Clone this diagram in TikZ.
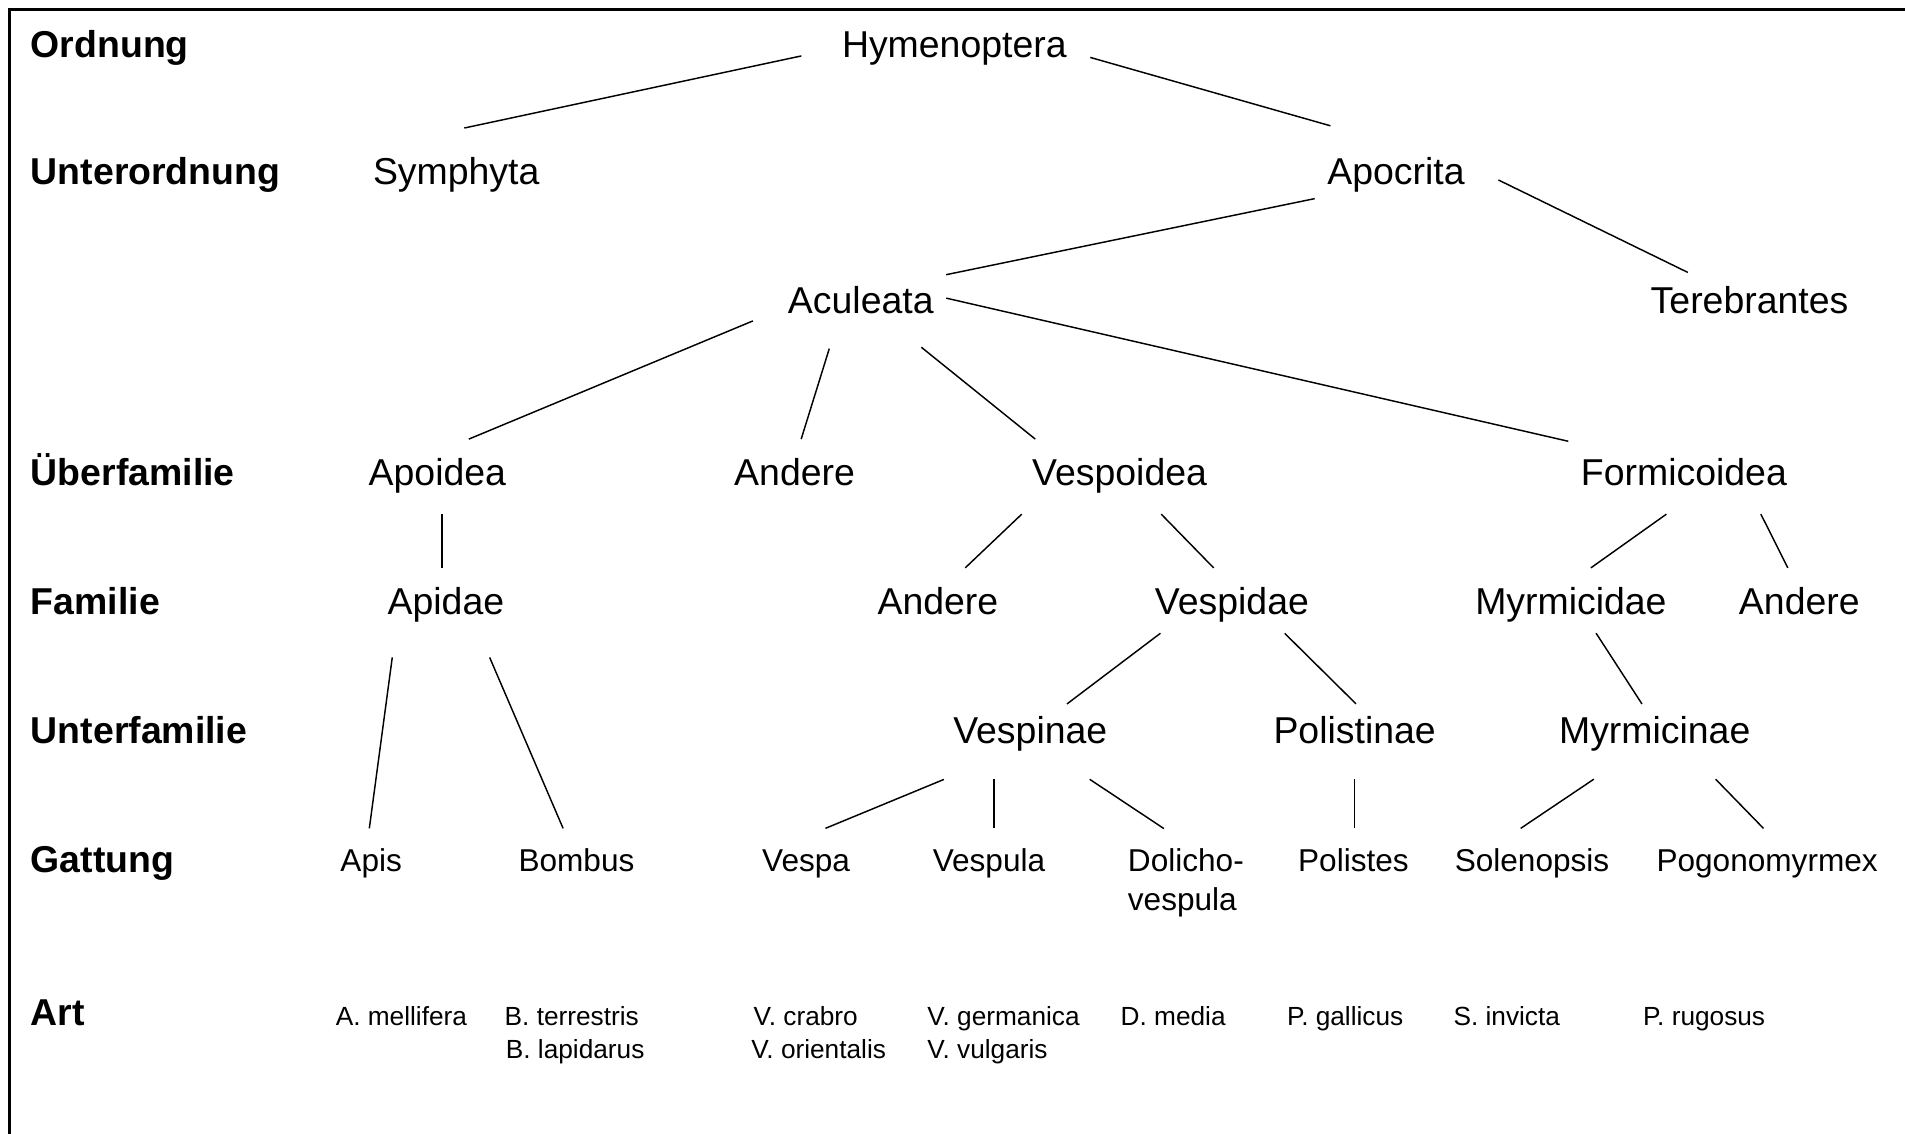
\documentclass[tikz,border=0pt]{standalone}
\usepackage{fontspec}
\setmainfont{Liberation Sans}
\usetikzlibrary{positioning}

\begin{document}
\begin{tikzpicture}[
  x=0.5pt, y=-0.5pt,
  taxon/.style={font=\fontsize{15.4pt}{18pt}\selectfont,anchor=base,
    inner xsep=5pt,inner ysep=8pt,text height=11.1pt,text depth=3.4pt},
  genus/.style={taxon,font=\fontsize{13pt}{16pt}\selectfont,text height=9.4pt,text depth=2.9pt},
  species/.style={font=\fontsize{10.8pt}{13.5pt}\selectfont,anchor=base west,inner sep=0pt},
  rank/.style={font=\fontsize{15.4pt}{18pt}\selectfont\bfseries,anchor=base west,inner sep=0pt},
  link/.style={line width=0.6pt}
]
\useasboundingbox (0,0) rectangle (1568,933);
\draw[line width=1.2pt] (8,933) -- (8,8) -- (1568,8);

% ---------- ranks ----------
\node[rank] (rOrd)  at (25,47)  {Ordnung};
\node[rank] (rUord) at (25,152) {Unterordnung};
\node[rank] (rUfam) at (25,400) {Überfamilie};
\node[rank] (rFam)  at (25,506) {Familie};
\node[rank] (rUfa)  at (25,612) {Unterfamilie};
\node[rank] (rGat)  at (25,718) {Gattung};
\node[rank] (rArt)  at (25,844) {Art};

% ---------- tree ----------
\node[taxon] (hym)  at (785.5,47) {Hymenoptera};
\node[taxon] (sym)  at (375.5,152) {Symphyta};
\node[taxon] (apo)  at (1149,152) {Apocrita};
\node[taxon] (acu)  at (708.5,258) {Aculeata};
\node[taxon] (tere) at (1440,258) {Terebrantes};

\node[taxon] (apoi)   at (360,400) {Apoidea};
\node[taxon] (andA)   at (654,400) {Andere};
\node[taxon] (vespoi) at (921.5,400) {Vespoidea};
\node[taxon] (formi)  at (1386,400) {Formicoidea};

\node[taxon] (apid)   at (367,506) {Apidae};
\node[taxon] (andB)   at (772,506) {Andere};
\node[taxon] (vespid) at (1014,506) {Vespidae};
\node[taxon] (myrmid) at (1293,506) {Myrmicidae};
\node[taxon] (andC)   at (1481,506) {Andere};

\node[taxon] (vespin) at (848,612) {Vespinae};
\node[taxon] (polin)  at (1115,612) {Polistinae};
\node[taxon] (myrmin) at (1362,612) {Myrmicinae};

\node[genus] (apis)  at (305.5,717) {Apis};
\node[genus] (bomb)  at (474.5,717) {Bombus};
\node[genus] (vespa) at (663.5,717) {Vespa};
\node[genus] (vesp)  at (814,717) {Vespula};
\node[genus,align=left,text height={},text depth={},anchor=north west] (doli) at (918,682) {Dolicho-\\vespula};
\node[genus] (polis) at (1114,717) {Polistes};
\node[genus] (solen) at (1261,717) {Solenopsis};
\node[genus] (pogo)  at (1454.5,717) {Pogonomyrmex};

% ---------- species ----------
\node[species] (amel) at (276,844) {A. mellifera};
\node[species] (bter) at (415,844) {B. terrestris};
\node[species] (blap) at (416,871) {B. lapidarus};
\node[species] (vcra) at (620,844) {V. crabro};
\node[species] (vori) at (618,871) {V. orientalis};
\node[species] (vger) at (763,844) {V. germanica};
\node[species] (vvul) at (763,871) {V. vulgaris};
\node[species] (dmed) at (922,844) {D. media};
\node[species] (pgal) at (1059,844) {P. gallicus};
\node[species] (sinv) at (1196,844) {S. invicta};
\node[species] (prug) at (1352,844) {P. rugosus};

% ---------- links ----------
\draw[link,shorten <=11.8pt,shorten >=19.2pt] (hym.181.5) -- (sym.135);
\draw[link,shorten <=4.7pt,shorten >=18pt] (hym.357.2) -- (apo.122);
\draw[link] (apo.196) -- (acu.19);
\draw[link,shorten <=9.7pt,shorten >=-5.5pt] (apo.4) -- (tere.153);
\draw[link,shorten <=10pt] (acu.185.5) -- (apoi.50);
\draw[link,shorten <=3pt] (acu.232) -- (andA.80);
\draw[link,shorten <=3.7pt] (acu.325) -- (vespoi.156);
\draw[link] (acu.4) -- (formi.163);
\draw[link] (apoi.277) -- (apoi.277 |- apid.north);
\draw[link] (vespoi.201) -- (andB.54);
\draw[link] (vespoi.318) -- (vespid.116);
\draw[link] (formi.245) -- (myrmid.62);
\draw[link] (formi.334) -- (andC.107);
\draw[link,shorten <=6pt] (apid.216) -- (apis.93);
\draw[link,shorten <=6.5pt] (apid.315) -- (bomb.111);
\draw[link,shorten <=-6.6pt,shorten >=-5pt] (vespid.204) -- (vespin.39);
\draw[link,shorten <=-5.6pt,shorten >=-4.2pt] (vespid.329) -- (polin.99);
\draw[link,shorten <=-4.8pt,shorten >=-3.6pt] (myrmid.310) -- (myrmin.115);
\draw[link,shorten <=8.3pt] (vespin.209) -- (vespa.61);
\draw[link,shorten <=3pt] (vespin.226) -- (vespin.226 |- vesp.north);
\draw[link,shorten <=5.6pt] (vespin.322) -- ([xshift=20pt]doli.north west);
\draw[link,shorten <=3pt] (polin.south) -- (polin.south |- polis.north);
\draw[link,shorten <=5.5pt] (myrmin.217) -- (solen.108);
\draw[link,shorten <=4.3pt] (myrmin.325) -- (pogo.96);

\end{tikzpicture}
\end{document}
